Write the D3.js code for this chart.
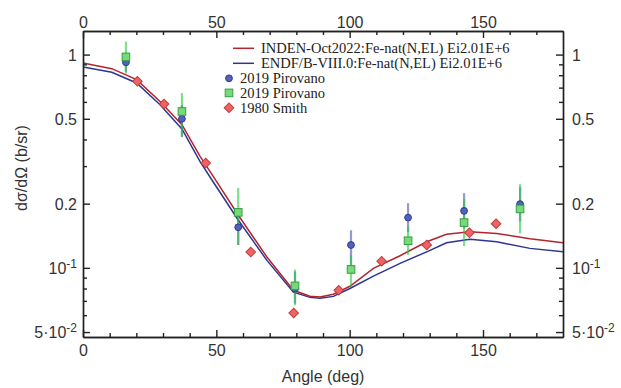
<!DOCTYPE html>
<html>
<head>
<meta charset="utf-8">
<script src="https://d3js.org/d3.v7.min.js"></script>
<style>
  body { margin: 0; background: #fff; }
  .axis path, .axis line { stroke: #222; stroke-width: 1.4px; }
  .axis text { font-family: "Liberation Sans", Arial, sans-serif; font-size: 16px; fill: #333; }
  .lab { font-family: "Liberation Sans", Arial, sans-serif; font-size: 16px; fill: #333; }
  .leg { font-family: "Liberation Serif", "Times New Roman", serif; font-size: 14.5px; fill: #222; }
</style>
</head>
<body>
<div id="chart"></div>
<script>
// Evaluated curves (angle in deg, dsigma/dOmega in b/sr)
var curveAngles = [0, 10.8, 20.1, 28.9, 37.1, 43.9, 48.9, 58.2, 68.9, 78.9, 85.1, 88.9,
                   93.9, 100.1, 108.9, 118.9, 128.9, 136.3, 145.1, 155.1, 167.6, 180];
var indenValues = [0.914, 0.859, 0.763, 0.603, 0.469, 0.333, 0.268, 0.177, 0.1127, 0.0785, 0.0736, 0.0730,
                   0.0752, 0.082, 0.0995, 0.114, 0.1326, 0.1438, 0.1478, 0.145, 0.137, 0.131];
var endfValues  = [0.875, 0.826, 0.736, 0.582, 0.448, 0.315, 0.252, 0.1676, 0.1087, 0.0769, 0.0727, 0.0720,
                   0.0735, 0.080, 0.0914, 0.105, 0.1189, 0.131, 0.136, 0.1325, 0.1234, 0.1189];

// 2019 Pirovano (two data sets at the same angles)
var pirovanoAngles = [16.1, 37.1, 58.2, 79.5, 100.5, 121.9, 142.9, 163.9];
var pirovanoCircle   = [0.92, 0.50, 0.155, 0.080, 0.128, 0.172, 0.185, 0.199];
var pirovanoCircleLo = [0.83, 0.41, 0.128, 0.068, 0.098, 0.147, 0.153, 0.165];
var pirovanoCircleHi = [1.02, 0.58, 0.177, 0.096, 0.150, 0.201, 0.224, 0.239];
var pirovanoSquare   = [0.975, 0.541, 0.182, 0.0823, 0.0983, 0.134, 0.163, 0.189];
var pirovanoSquareLo = [0.814, 0.413, 0.128, 0.0668, 0.0814, 0.115, 0.1265, 0.145];
var pirovanoSquareHi = [1.15, 0.66, 0.237, 0.0982, 0.115, 0.156, 0.21, 0.247];

// 1980 Smith
var smithAngles = [20.4, 30.4, 46.0, 62.9, 79.0, 95.9, 112.0, 128.9, 144.9, 154.9];
var smithValues = [0.749, 0.586, 0.310, 0.1186, 0.0614, 0.0785, 0.1075, 0.128, 0.146, 0.161];
var smithErr = 0.035; // relative

var legendLabels = ["INDEN-Oct2022:Fe-nat(N,EL) Ei2.01E+6",
                    "ENDF/B-VIII.0:Fe-nat(N,EL) Ei2.01E+6",
                    "2019 Pirovano", "2019 Pirovano", "1980 Smith"];

var xMajor = [0, 50, 100, 150];
var yMajor = [1, 0.5, 0.2, 0.1, 0.05];
var yMinor = [0.9, 0.8, 0.7, 0.6, 0.4, 0.3, 0.09, 0.08, 0.07, 0.06];

var width = 621, height = 388;
// plot frame (don't use "top" as a global name: window.top is read-only)
var pLeft = 83, pRight = 563, pTop = 31, pBottom = 337;

var svg = d3.select("#chart").append("svg")
    .attr("width", width)
    .attr("height", height);

var x = d3.scaleLinear().domain([0, 180]).range([pLeft, pRight]);
var y = d3.scaleLog().domain([0.0474, 1.29]).range([pBottom, pTop]);

var redC = "#b3242b", blueC = "#2b3594";

// clip
svg.append("clipPath").attr("id", "clip")
  .append("rect").attr("x", pLeft).attr("y", pTop)
  .attr("width", pRight - pLeft).attr("height", pBottom - pTop);

// Curves
var line = d3.line()
    .x(function(d) { return x(d[0]); })
    .y(function(d) { return y(d[1]); });

var plot = svg.append("g").attr("clip-path", "url(#clip)");

plot.append("path")
    .datum(d3.zip(curveAngles, endfValues))
    .attr("fill", "none").attr("stroke", blueC).attr("stroke-width", 1.5)
    .attr("d", line);
plot.append("path")
    .datum(d3.zip(curveAngles, indenValues))
    .attr("fill", "none").attr("stroke", redC).attr("stroke-width", 1.5)
    .attr("d", line);

// error bars
var circ = pirovanoAngles.map(function(a, i) {
  return { a: a, v: pirovanoCircle[i], lo: pirovanoCircleLo[i], hi: pirovanoCircleHi[i] };
});
var sq = pirovanoAngles.map(function(a, i) {
  return { a: a, v: pirovanoSquare[i], lo: pirovanoSquareLo[i], hi: pirovanoSquareHi[i] };
});
var sm = smithAngles.map(function(a, i) {
  return { a: a, v: smithValues[i], lo: smithValues[i] * (1 - smithErr), hi: smithValues[i] * (1 + smithErr) };
});

function errBars(data, color, w) {
  plot.append("g").selectAll("line")
    .data(data).enter().append("line")
    .attr("x1", d => x(d.a)).attr("x2", d => x(d.a))
    .attr("y1", d => y(d.lo)).attr("y2", d => y(d.hi))
    .attr("stroke", color).attr("stroke-width", w);
}
errBars(circ, "rgba(60,70,170,0.55)", 2.2);
errBars(sq, "rgba(40,200,60,0.6)", 2.2);
errBars(sm, "#c84040", 1);

// markers
plot.append("g").selectAll("circle")
  .data(circ).enter().append("circle")
  .attr("cx", d => x(d.a)).attr("cy", d => y(d.v)).attr("r", 3.4)
  .attr("fill", "#5262b8").attr("stroke", "#2f3b8e").attr("stroke-width", 1);

plot.append("g").selectAll("rect")
  .data(sq).enter().append("rect")
  .attr("x", d => x(d.a) - 3.8).attr("y", d => y(d.v) - 3.8)
  .attr("width", 7.6).attr("height", 7.6)
  .attr("fill", "#79d879").attr("stroke", "#2fa040").attr("stroke-width", 1);

var diamond = d3.symbol().type(d3.symbolSquare).size(46);
plot.append("g").selectAll("path")
  .data(sm).enter().append("path")
  .attr("d", diamond)
  .attr("transform", d => "translate(" + x(d.a) + "," + y(d.v) + ") rotate(45)")
  .attr("fill", "#ee6464").attr("stroke", "#c53a3a").attr("stroke-width", 1);

// Axes
var xMinor = d3.range(10, 180, 10).filter(v => xMajor.indexOf(v) < 0);

svg.append("g").attr("class", "axis")
  .attr("transform", "translate(0," + pBottom + ")")
  .call(d3.axisBottom(x).tickValues(xMajor).tickSizeInner(-7).tickSizeOuter(0).tickPadding(8));
svg.append("g").attr("class", "axis")
  .attr("transform", "translate(0," + pBottom + ")")
  .call(d3.axisBottom(x).tickValues(xMinor).tickSizeInner(-4).tickSizeOuter(0).tickFormat(""));

svg.append("g").attr("class", "axis")
  .attr("transform", "translate(0," + pTop + ")")
  .call(d3.axisTop(x).tickValues(xMajor).tickSizeInner(-7).tickSizeOuter(0).tickPadding(3));
svg.append("g").attr("class", "axis")
  .attr("transform", "translate(0," + pTop + ")")
  .call(d3.axisTop(x).tickValues(xMinor).tickSizeInner(-4).tickSizeOuter(0).tickFormat(""));

svg.append("g").attr("class", "axis")
  .attr("transform", "translate(" + pLeft + ",0)")
  .call(d3.axisLeft(y).tickValues(yMajor).tickSizeInner(-7).tickSizeOuter(0).tickFormat(""));
svg.append("g").attr("class", "axis")
  .attr("transform", "translate(" + pLeft + ",0)")
  .call(d3.axisLeft(y).tickValues(yMinor).tickSizeInner(-4).tickSizeOuter(0).tickFormat(""));

svg.append("g").attr("class", "axis")
  .attr("transform", "translate(" + pRight + ",0)")
  .call(d3.axisRight(y).tickValues(yMajor).tickSizeInner(-7).tickSizeOuter(0).tickFormat(""));
svg.append("g").attr("class", "axis")
  .attr("transform", "translate(" + pRight + ",0)")
  .call(d3.axisRight(y).tickValues(yMinor).tickSizeInner(-4).tickSizeOuter(0).tickFormat(""));

// Y tick labels with superscripts
function yLabel(sel, v) {
  if (v === 0.1) {
    sel.append("tspan").text("10");
    sel.append("tspan").attr("dy", -6).attr("font-size", "12px").text("-1");
  } else if (v === 0.05) {
    sel.append("tspan").text("5\u00b710");
    sel.append("tspan").attr("dy", -6).attr("font-size", "12px").text("-2");
  } else {
    sel.text(String(v));
  }
}
yMajor.forEach(function(v) {
  var tl = svg.append("text").attr("class", "lab")
    .attr("x", pLeft - 6).attr("y", y(v) + 6)
    .attr("text-anchor", "end");
  yLabel(tl, v);
  var tr = svg.append("text").attr("class", "lab")
    .attr("x", pRight + 9).attr("y", y(v) + 6)
    .attr("text-anchor", "start");
  yLabel(tr, v);
});

// Axis titles
svg.append("text").attr("class", "lab")
  .attr("x", (pLeft + pRight) / 2).attr("y", 382)
  .attr("text-anchor", "middle")
  .text("Angle (deg)");

svg.append("text").attr("class", "lab")
  .attr("transform", "translate(27,168) rotate(-90)")
  .attr("text-anchor", "middle")
  .text("d\u03c3/d\u03a9 (b/sr)");

// Legend
var rows = [48.3, 63.3, 78.3, 92.9, 107.7];
var lg = svg.append("g");
[redC, blueC].forEach(function(c, i) {
  lg.append("line").attr("x1", 233).attr("x2", 254)
    .attr("y1", rows[i]).attr("y2", rows[i])
    .attr("stroke", c).attr("stroke-width", 1.5);
  lg.append("text").attr("class", "leg")
    .attr("x", 261).attr("y", rows[i] + 5).text(legendLabels[i]);
});
lg.append("circle").attr("cx", 229).attr("cy", rows[2]).attr("r", 3.4)
  .attr("fill", "#5262b8").attr("stroke", "#2f3b8e");
lg.append("rect").attr("x", 229 - 3.8).attr("y", rows[3] - 3.8)
  .attr("width", 7.6).attr("height", 7.6)
  .attr("fill", "#79d879").attr("stroke", "#2fa040");
lg.append("path").attr("d", diamond)
  .attr("transform", "translate(229," + rows[4] + ") rotate(45)")
  .attr("fill", "#ee6464").attr("stroke", "#c53a3a");
[2, 3, 4].forEach(function(i) {
  lg.append("text").attr("class", "leg")
    .attr("x", 240).attr("y", rows[i] + 5).text(legendLabels[i]);
});
</script>
</body>
</html>
